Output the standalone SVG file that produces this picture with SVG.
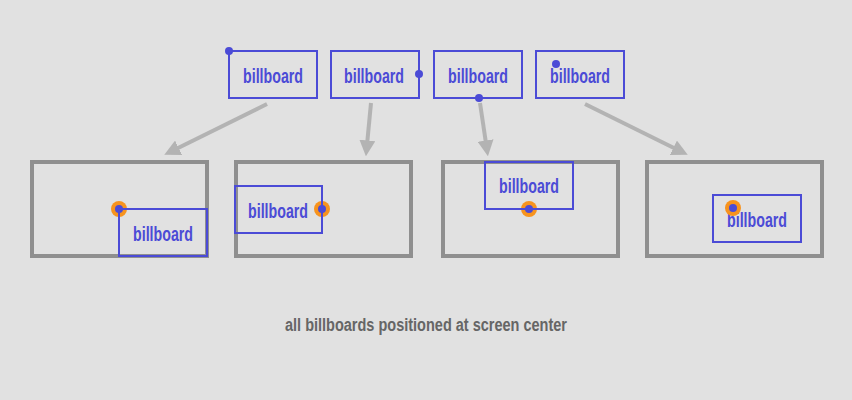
<svg xmlns="http://www.w3.org/2000/svg" width="852" height="400" viewBox="0 0 852 400">
<style>
.bb{fill:none;stroke:#4b4bd6;stroke-width:2}
.bt{font-family:"Liberation Sans",sans-serif;font-weight:bold;font-size:21px;fill:#4b4bd6;text-anchor:middle}
.scr{fill:none;stroke:#8f8f8f;stroke-width:4}
.dot{fill:#4b4bd6}
.ctr{fill:#f7931e}
.arr{stroke:#b3b3b3;stroke-width:4;fill:none;marker-end:url(#ah)}
.cap{font-family:"Liberation Sans",sans-serif;font-weight:bold;font-size:18px;fill:#666;text-anchor:middle}
</style>
<defs>
<marker id="ah" viewBox="0 0 10 10" refX="6" refY="5" markerWidth="4" markerHeight="4" orient="auto" markerUnits="strokeWidth">
<path d="M0,0 L10,5 L0,10 z" fill="#b3b3b3"/>
</marker>
</defs>
<rect width="852" height="400" fill="#e1e1e1"/>
<g id="connectors">
<line class="arr" x1="267" y1="104" x2="170" y2="152"/>
<line class="arr" x1="371" y1="103" x2="366.5" y2="150"/>
<line class="arr" x1="480" y1="103" x2="487" y2="150"/>
<line class="arr" x1="585" y1="104" x2="682" y2="152"/>
</g>
<g id="top1"><rect class="bb" x="229" y="51" width="88" height="47"/><text class="bt" x="273" y="83" textLength="60" lengthAdjust="spacingAndGlyphs">billboard</text><circle class="dot" cx="229" cy="51" r="4"/></g>
<g id="top2"><rect class="bb" x="331" y="51" width="88" height="47"/><text class="bt" x="374" y="83" textLength="60" lengthAdjust="spacingAndGlyphs">billboard</text><circle class="dot" cx="419" cy="74" r="4"/></g>
<g id="top3"><rect class="bb" x="434" y="51" width="88" height="47"/><text class="bt" x="478" y="83" textLength="60" lengthAdjust="spacingAndGlyphs">billboard</text><circle class="dot" cx="479" cy="98" r="4"/></g>
<g id="top4"><rect class="bb" x="536" y="51" width="88" height="47"/><text class="bt" x="580" y="83" textLength="60" lengthAdjust="spacingAndGlyphs">billboard</text><circle class="dot" cx="556" cy="64" r="4"/></g>
<g id="screen1"><rect class="scr" x="32" y="162" width="175" height="94"/><circle class="ctr" cx="119" cy="209" r="8"/><rect class="bb" x="119" y="209" width="88" height="47"/><text class="bt" x="163" y="241" textLength="60" lengthAdjust="spacingAndGlyphs">billboard</text><circle class="dot" cx="119" cy="209" r="4"/></g>
<g id="screen2"><rect class="scr" x="236" y="162" width="175" height="94"/><circle class="ctr" cx="322" cy="209" r="8"/><rect class="bb" x="235" y="186" width="87" height="47"/><text class="bt" x="278" y="218" textLength="60" lengthAdjust="spacingAndGlyphs">billboard</text><circle class="dot" cx="322" cy="209" r="4"/></g>
<g id="screen3"><rect class="scr" x="443" y="162" width="175" height="94"/><circle class="ctr" cx="529" cy="209" r="8"/><rect class="bb" x="485" y="162" width="88" height="47"/><text class="bt" x="529" y="193" textLength="60" lengthAdjust="spacingAndGlyphs">billboard</text><circle class="dot" cx="529" cy="209" r="4"/></g>
<g id="screen4"><rect class="scr" x="647" y="162" width="175" height="94"/><rect class="bb" x="713" y="195" width="88" height="47"/><text class="bt" x="757" y="227" textLength="60" lengthAdjust="spacingAndGlyphs">billboard</text><circle class="ctr" cx="733" cy="208" r="8"/><circle class="dot" cx="733" cy="208" r="4"/></g>
<text class="cap" x="426" y="331" textLength="282" lengthAdjust="spacingAndGlyphs">all billboards positioned at screen center</text>
</svg>
